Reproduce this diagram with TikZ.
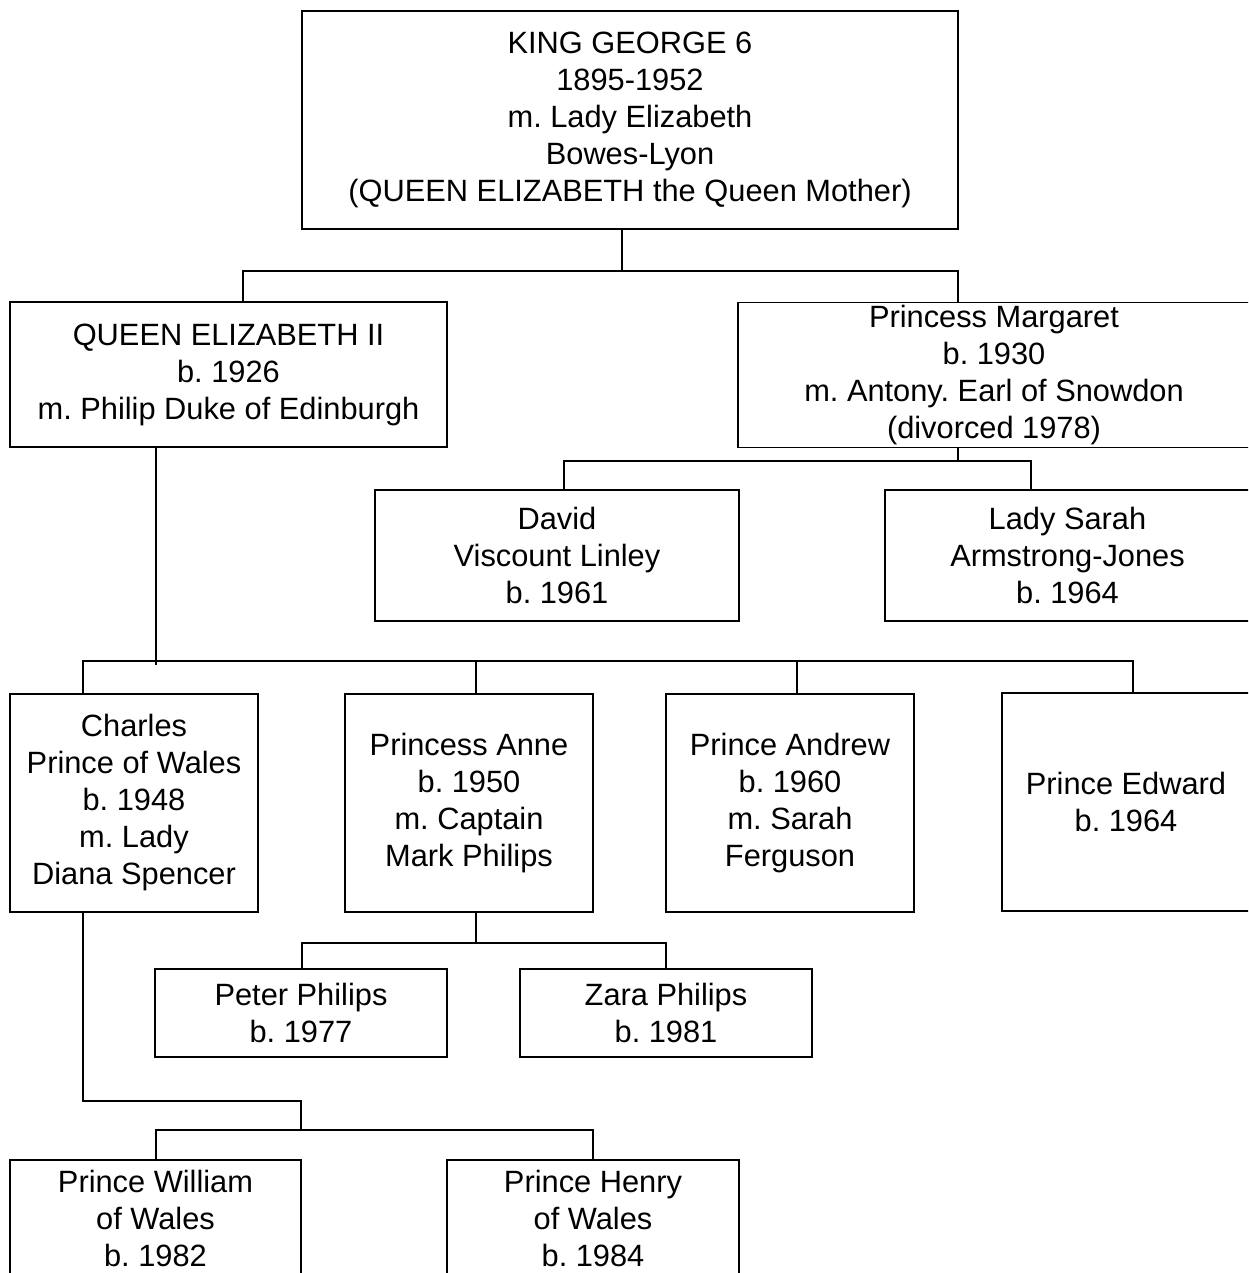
\documentclass[tikz,border=0pt]{standalone}
\usepackage{fontspec}
\setmainfont{Liberation Sans}
\usepackage{tikz}
\usetikzlibrary{positioning}
\frenchspacing
\tikzstyle{person} = [draw, line width=0.8pt, inner sep=0pt, align=center, font=\fontsize{15.4}{18.5}\selectfont]
\tikzstyle{link} = [line width=0.6pt]

\begin{document}
\begin{tikzpicture}[x=0.5pt,y=-0.5pt]
	% page
	\clip (0,0) rectangle (1248,1273);

	% first generation
	\node[person, minimum width=328pt, minimum height=109pt] (king) at (630,120) {KING GEORGE 6\\1895-1952\\m. Lady Elizabeth\\Bowes-Lyon\\(QUEEN ELIZABETH the Queen Mother)};

	% second generation
	\node[person, minimum width=218.5pt, minimum height=72.5pt] (queen) at (228.5,374.5) {QUEEN ELIZABETH II\\b. 1926\\m. Philip Duke of Edinburgh};
	\node[person, minimum width=256pt, minimum height=72.5pt] (margaret) at (994,375) {Princess Margaret\\b. 1930\\m. Antony. Earl of Snowdon\\(divorced 1978)};

	% third generation
	\node[person, minimum width=182pt, minimum height=65.5pt] (david) at (557,555.5) {David\\Viscount Linley\\b. 1961};
	\node[person, minimum width=182.5pt, minimum height=65.5pt] (sarah) at (1067.5,555.5) {Lady Sarah\\Armstrong-Jones\\b. 1964};
	\node[person, minimum width=124pt, minimum height=109pt] (charles) at (134,803) {Charles\\Prince of Wales\\b. 1948\\m. Lady\\Diana Spencer};
	\node[person, minimum width=124pt, minimum height=109pt] (anne) at (469,803) {Princess Anne\\b. 1950\\m. Captain\\Mark Philips};
	\node[person, minimum width=124pt, minimum height=109pt] (andrew) at (790,803) {Prince Andrew\\b. 1960\\m. Sarah\\Ferguson};
	\node[person, minimum width=124pt, minimum height=109pt] (edward) at (1126,802) {Prince Edward\\b. 1964};

	% fourth generation
	\node[person, minimum width=146pt, minimum height=44pt] (peter) at (301,1013) {Peter Philips\\b. 1977};
	\node[person, minimum width=146pt, minimum height=44pt] (zara) at (666,1013) {Zara Philips\\b. 1981};
	\node[person, minimum width=145.5pt, minimum height=58.5pt] (william) at (155.5,1218.5) {Prince William\\of Wales\\b. 1982};
	\node[person, minimum width=146pt, minimum height=58.5pt] (henry) at (593,1218.5) {Prince Henry\\of Wales\\b. 1984};

	% lines of descent
	\draw[link] (king.south -| 622,0) -- (622,271);
	\draw[link] (queen.north -| 243,0) |- (958,271) -- (margaret.north -| 958,0);

	\draw[link] (margaret.south -| 958,0) -- (958,461);
	\draw[link] (david.north -| 564,0) |- (1031,461) -- (sarah.north -| 1031,0);

	\draw[link] (queen.south -| 156,0) -- (156,665);
	\draw[link] (charles.north -| 83,0) |- (1133,661) -- (edward.north -| 1133,0);
	\foreach \x/\child in {476/anne, 797/andrew}
		\draw[link] (\child.north -| \x,0) -- (\x,661);

	\draw[link] (anne.south -| 476,0) -- (476,943);
	\draw[link] (peter.north -| 302,0) |- (666,943) -- (zara.north -| 666,0);

	\draw[link] (charles.south -| 83,0) |- (301,1101) -- (301,1130);
	\draw[link] (william.north -| 156,0) |- (593,1130) -- (henry.north -| 593,0);
\end{tikzpicture}
\end{document}
